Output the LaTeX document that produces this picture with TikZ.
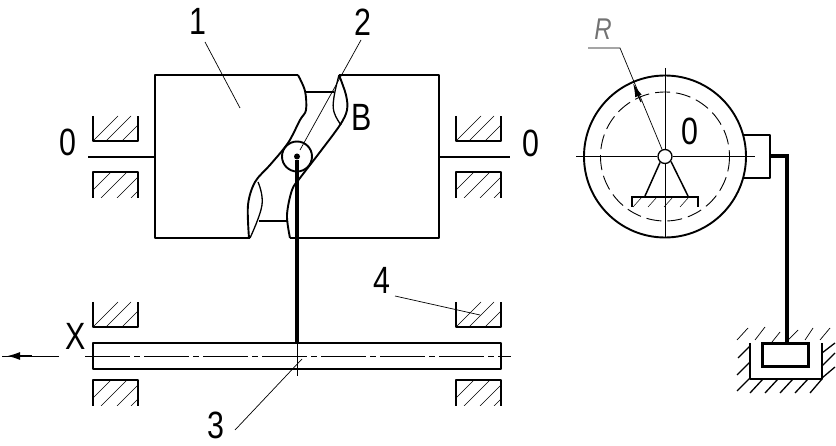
\documentclass[tikz,border=0pt]{standalone}
\usepackage{fontspec}
\usetikzlibrary{arrows.meta}
\newfontfamily\drawfont[FakeStretch=0.8]{Liberation Sans}
\newfontfamily\radfont[FakeStretch=0.8]{Liberation Sans}

\begin{document}
\begin{tikzpicture}[x=1pt,y=-1pt]
  \useasboundingbox (0,0) rectangle (836,446);
  \tikzstyle{Body}=[line width=1.9pt,line join=round]
  \tikzstyle{Thin}=[line width=0.7pt]
  \tikzstyle{Hatch}=[line width=0.5pt]
  \tikzstyle{Rod}=[line width=3.6pt]
  \tikzstyle{Axis}=[line width=0.7pt,dash pattern=on 45pt off 4pt on 6pt off 4pt]
  \tikzstyle{Digit}=[font=\drawfont\fontsize{38}{38}\selectfont,inner sep=0pt]
  \tikzset{
    BearingTop/.pic={
      \begin{scope}
        \clip (0,0) rectangle (45,25);
        \foreach \hx in {0,13,29} \draw[Hatch] (\hx,25) -- ++(25,-25);
      \end{scope}
      \draw[Body] (0,0) -- (0,25) -- (45,25) -- (45,0);
    },
    BearingBottom/.pic={
      \begin{scope}
        \clip (0,0) rectangle (45,26);
        \foreach \hx in {-8,8,24,38} \draw[Hatch] (\hx,26) -- ++(26,-26);
      \end{scope}
      \draw[Body] (0,26) -- (0,0) -- (45,0) -- (45,26);
    }
  }
  % bearings
  \foreach \bx in {93,456} {
    \pic at (\bx,116) {BearingTop};
    \pic at (\bx,172) {BearingBottom};
    \pic at (\bx,302) {BearingTop};
    \pic at (\bx,380) {BearingBottom};
  }
  % drum with the groove
  \draw[Body] (298,75) -- (155,75) -- (155,238) -- (250,238);
  \draw[Body] (339,75) -- (439,75) -- (439,238) -- (290,238);
  \draw[Body] plot[smooth,tension=.55] coordinates {(298,75) (305,91) (306,110) (300,120) (288,143) (270,165) (255,182) (248,205) (249,238)};
  \draw[Body] plot[smooth,tension=.55] coordinates {(290,238) (287,215) (292,190) (300,178) (320,152) (340,125) (347,110) (346,95) (339,75)};
  \draw[Thin,line width=1.3pt] plot[smooth,tension=.7] coordinates {(258,182) (262,205) (250,238)};
  \draw[Thin,line width=1.3pt] plot[smooth,tension=.7] coordinates {(339,75) (334,97) (334,112) (341,125)};
  \draw[Body] (305,92) -- (334,92);
  \draw[Body] (259,221) -- (287,221);
  % shafts
  \draw[Body] (88,157) -- (155,157);
  \draw[Body] (439,157) -- (510,157);
  % slider
  \draw[Body] (93,343) rectangle (501,369);
  \coordinate (AxisL) at (85,356);
  \coordinate (AxisR) at (511,356);
  \draw[Axis] (AxisL) -- (AxisR);
  \coordinate (ArrowR) at (59,356);
  \coordinate (ArrowM) at (32,356);
  \coordinate (ArrowL) at (2,356);
  \coordinate (ArrowT) at (6,356);
  \draw[Thin] (ArrowR) -- (ArrowL);
  \draw[line width=2.4pt,-{Latex[length=14pt,width=8pt]}] (ArrowM) -- (ArrowT);
  % roller and rod
  \node[circle,draw,line width=1.9pt,minimum size=30pt,inner sep=0pt] (Roller) at (297,156.5) {};
  \node[circle,fill,minimum size=6pt,inner sep=0pt] (Pin) at (297,156.5) {};
  \coordinate (RodEnd) at (297,343);
  \draw[Rod] (Pin) -- (RodEnd);
  \coordinate (CrossEnd) at (297,376);
  \draw[Thin] (RodEnd) -- (CrossEnd);
  % labels
  \node[Digit] (One) at (198,21) {1};
  \node[Digit] (Two) at (363,22) {2};
  \node[Digit] (Three) at (216,425) {3};
  \node[Digit] (Four) at (382,280) {4};
  \node[Digit] (Bee) at (362,117) {B};
  \node[Digit] (ZeroL) at (68,142) {0};
  \node[Digit] (ZeroR) at (531,143) {0};
  \node[Digit] (Ex) at (76,336) {X};
  \node[Digit] (ZeroC) at (690,131) {0};
  \coordinate (OneA) at (205,42);
  \coordinate (OneB) at (240,108);
  \draw[Thin] (OneA) -- (OneB);
  \coordinate (TwoA) at (361,40);
  \coordinate (TwoB) at (300,150);
  \draw[Thin] (TwoA) -- (TwoB);
  \coordinate (ThreeA) at (235,430);
  \coordinate (ThreeB) at (302,359);
  \draw[Thin] (ThreeA) -- (ThreeB);
  \coordinate (FourA) at (395,296);
  \coordinate (FourB) at (480,315);
  \draw[Thin] (FourA) -- (FourB);
  % wheel
  \node[circle,draw,line width=1.9pt,minimum size=162pt,inner sep=0pt] (Wheel) at (665,156.5) {};
  \draw[Thin,line width=0.9pt,dash pattern=on 15pt off 6pt] (665,156.5) circle [radius=64.5];
  \node[circle,draw,fill=white,line width=1.3pt,minimum size=14pt,inner sep=0pt] (Hub) at (665,156.5) {};
  \coordinate (HorL) at (576,156.5);
  \coordinate (HorR) at (755,156.5);
  \coordinate (VerT) at (665,68);
  \coordinate (VerB) at (665,237);
  \draw[Thin] (HorL) -- (Hub.west) (Hub.east) -- (HorR);
  \draw[Thin] (VerT) -- (Hub.north) (Hub.south) -- (VerB);
  % pedestal
  \coordinate (FootL) at (645,196);
  \coordinate (FootR) at (688,196);
  \draw[line width=1.5pt] (Hub) ++(-5,6) -- (FootL);
  \draw[line width=1.5pt] (Hub) ++(6,5) -- (FootR);
  \draw[line width=1.6pt] (632,207) -- (632,197) -- (698,197) -- (698,207);
  \foreach \hx in {633,648,664,680} \draw[Hatch] (\hx,207) -- ++(9,-10);
  % radius
  \node[font=\radfont\itshape\fontsize{30}{30}\selectfont,text=black!55,inner sep=0pt] (Rad) at (603,29) {R};
  \coordinate (RadA) at (588,48);
  \coordinate (RadB) at (620,48);
  \draw[Thin] (RadA) -- (RadB) -- (Hub);
  \coordinate (RadTip) at (633,83);
  \coordinate (RadBase) at (641,102);
  \draw[line width=1.2pt,-{Latex[length=14pt,width=7pt]}] (RadBase) -- (RadTip);
  % box, cable and weight
  \draw[Body] (744,135) -- (770,135) -- (770,178) -- (743,178);
  \node[draw,line width=3.6pt,minimum width=46pt,minimum height=23pt,inner sep=0pt] (Weight) at (785.5,355) {};
  \coordinate (CableA) at (770,156);
  \coordinate (CableB) at (787,156);
  \draw[line width=4.2pt] (CableA) -- (CableB) -- (787,343.5);
  \draw[Body] (750,343) -- (750,379) -- (822,379) -- (822,343);
  % pit hatching
  \foreach \ha/\hb/\hc/\hd in {737/340/748/328,755/340/765/327,772/342/780/332,788/340/798/330,805/340/813/328,820/340/830/328}
    \draw[Thin] (\ha,\hb) -- (\hc,\hd);
  \foreach \ha/\hb/\hc/\hd in {738/358/750/346,737/375/750/362,737/391/750/378,750/393/763/379,765/393/778/379,780/393/793/379,795/393/808/379,810/393/822/379,822/353/835/343,822/366/835/353,822/378/835/367}
    \draw[line width=1.3pt] (\ha,\hb) -- (\hc,\hd);
\end{tikzpicture}
\end{document}
